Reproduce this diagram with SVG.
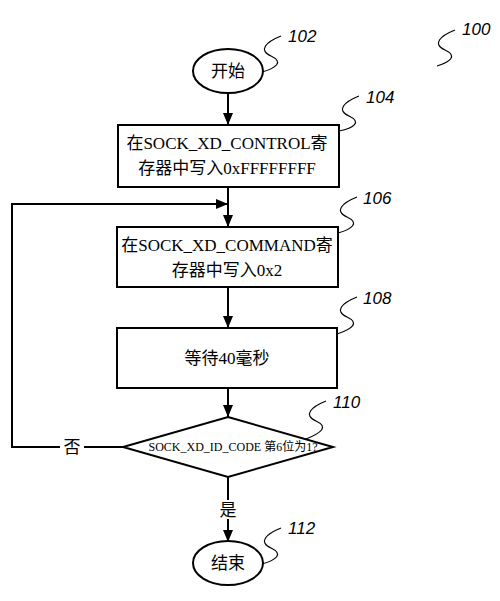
<svg xmlns="http://www.w3.org/2000/svg" width="500" height="601" viewBox="0 0 500 601">
<defs>
<marker id="ah" markerWidth="12" markerHeight="12" viewBox="0 0 12 12" refX="12" refY="6" orient="auto" markerUnits="userSpaceOnUse">
<path d="M0,1 L12,6 L0,11 Z" fill="#000"/>
</marker>
<style>
.s{fill:#fff;stroke:#000;stroke-width:2}
.c{fill:none;stroke:#000;stroke-width:2}
.q{fill:none;stroke:#000;stroke-width:1.2}
.t{font-family:"Liberation Serif","Noto Sans CJK SC",serif;font-size:17px;text-anchor:middle;fill:#000}
.d{font-family:"Liberation Serif","Noto Sans CJK SC",serif;font-size:12px;text-anchor:middle;fill:#000}
.n{font-family:"Liberation Sans",sans-serif;font-style:italic;font-size:17px;fill:#000}
</style>
</defs>
<rect width="500" height="601" fill="#fff"/>
<g id="connectors">
<line class="c" x1="228" y1="93" x2="228" y2="125" marker-end="url(#ah)"/>
<line class="c" x1="228" y1="187" x2="228" y2="227" marker-end="url(#ah)"/>
<polyline class="c" points="123,447 84,447"/>
<polyline class="c" points="60,447 12,447 12,204 228,204" marker-end="url(#ah)"/>
<line class="c" x1="228" y1="287" x2="228" y2="328" marker-end="url(#ah)"/>
<line class="c" x1="228" y1="388" x2="228" y2="417" marker-end="url(#ah)"/>
<line class="c" x1="228" y1="477" x2="228" y2="500"/>
<line class="c" x1="228" y1="519" x2="228" y2="542" marker-end="url(#ah)"/>
<text class="t" x="72" y="453">否</text>
<text class="t" x="228" y="516">是</text>
</g>
<g id="label100">
<path class="q" d="M455,30 C440,36 432,44 445,50 C458,56 450,62 437,66"/>
<text class="n" x="462" y="35">100</text>
</g>
<g id="start">
<ellipse class="s" cx="228" cy="71" rx="35" ry="22"/>
<text class="t" x="228" y="77">开始</text>
<path class="q" d="M281,36 C266,42 258,50 271,56 C284,62 276,68 262,72"/>
<text class="n" x="288" y="42">102</text>
</g>
<g id="box104">
<rect class="s" x="118" y="125" width="221" height="62"/>
<text class="t" x="227" y="149">在SOCK_XD_CONTROL寄</text>
<text class="t" x="227" y="174">存器中写入0xFFFFFFFF</text>
<path class="q" d="M359,96 C344,102 336,110 349,116 C362,122 354,128 339,131"/>
<text class="n" x="366" y="103">104</text>
</g>
<g id="box106">
<rect class="s" x="117" y="227" width="221" height="60"/>
<text class="t" x="227" y="251">在SOCK_XD_COMMAND寄</text>
<text class="t" x="227" y="276">存器中写入0x2</text>
<path class="q" d="M357,197 C342,203 334,211 347,217 C360,223 352,229 338,233"/>
<text class="n" x="363" y="204">106</text>
</g>
<g id="box108">
<rect class="s" x="117" y="328" width="220" height="60"/>
<text class="t" x="227" y="364">等待40毫秒</text>
<path class="q" d="M357,297 C342,303 334,311 347,317 C360,323 352,329 337,334"/>
<text class="n" x="363" y="304">108</text>
</g>
<g id="decision110">
<polygon class="s" points="228,417 333,447 228,477 123,447"/>
<text class="d" x="233" y="451">SOCK_XD_ID_CODE 第6位为1?</text>
<path class="q" d="M326,401 C311,407 303,415 316,421 C329,427 321,433 306,439"/>
<text class="n" x="333" y="408">110</text>
</g>
<g id="end">
<ellipse class="s" cx="228" cy="563" rx="35" ry="22"/>
<text class="t" x="228" y="569">结束</text>
<path class="q" d="M281,528 C266,534 258,542 271,548 C284,554 276,560 262,564"/>
<text class="n" x="288" y="534">112</text>
</g>
</svg>
